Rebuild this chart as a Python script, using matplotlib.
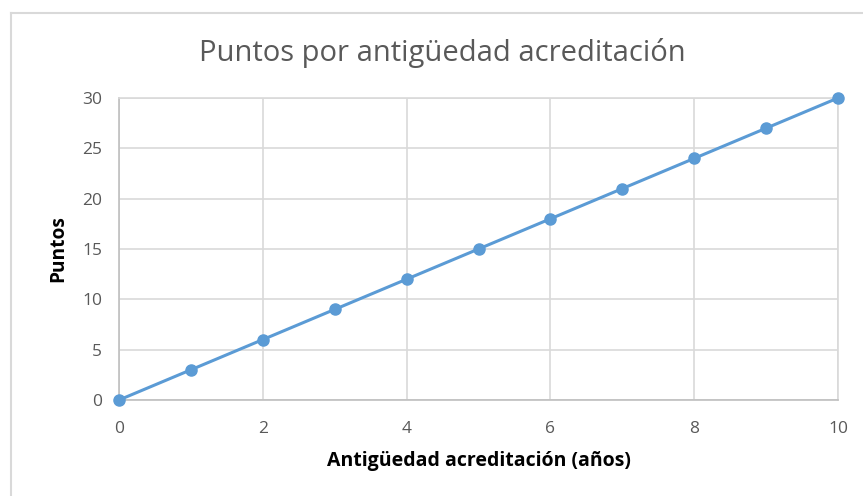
import matplotlib.pyplot as plt
from matplotlib.lines import Line2D

years = [0, 1, 2, 3, 4, 5, 6, 7, 8, 9, 10]
points = [0, 3, 6, 9, 12, 15, 18, 21, 24, 27, 30]
x_ticks = [0, 2, 4, 6, 8, 10]
y_ticks = [0, 5, 10, 15, 20, 25, 30]

plt.rcParams["font.family"] = ["Open Sans", "DejaVu Sans"]

fig = plt.figure(figsize=(8.63, 4.96), dpi=100)
ax = fig.add_axes([119 / 863, 1 - 400 / 496, (838 - 119) / 863, (400 - 98) / 496])

# outer chart frame (right and bottom edges are cut off in the reference)
frame_color = "#d9d9d9"
fig.add_artist(Line2D([11 / 863, 11 / 863], [0, 1 - 13 / 496], color=frame_color, lw=1.5))
fig.add_artist(Line2D([11 / 863, 1], [1 - 13 / 496, 1 - 13 / 496], color=frame_color, lw=1.5))

ax.plot(years, points, color="#5b9bd5", lw=2.2, marker="o", markersize=8,
        clip_on=False, zorder=5)

ax.set_xlim(0, 10)
ax.set_ylim(0, 30)
ax.set_xticks(x_ticks)
ax.set_yticks(y_ticks)
ax.grid(True, color="#d9d9d9", lw=1.2)
ax.set_axisbelow(True)
for side in ["top", "right"]:
    ax.spines[side].set_color("#d9d9d9")
    ax.spines[side].set_linewidth(1.2)
for side in ["left", "bottom"]:
    ax.spines[side].set_color("#bfbfbf")
    ax.spines[side].set_linewidth(1.2)
ax.tick_params(length=0, labelsize=12.5, labelcolor="#595959")
ax.tick_params(axis="x", pad=15)
ax.tick_params(axis="y", pad=12)

# title is centred on the whole chart frame, not on the plot area
fig.text(442 / 863, 1 - 53 / 496, "Puntos por antigüedad acreditación",
         fontsize=21, color="#595959", ha="center", va="center")
ax.set_xlabel("Antigüedad acreditación (años)", fontsize=14, fontweight="bold",
              labelpad=10)
ax.set_ylabel("Puntos", fontsize=13.8, fontweight="bold", labelpad=10)

fig.savefig("out.png", dpi=100)
